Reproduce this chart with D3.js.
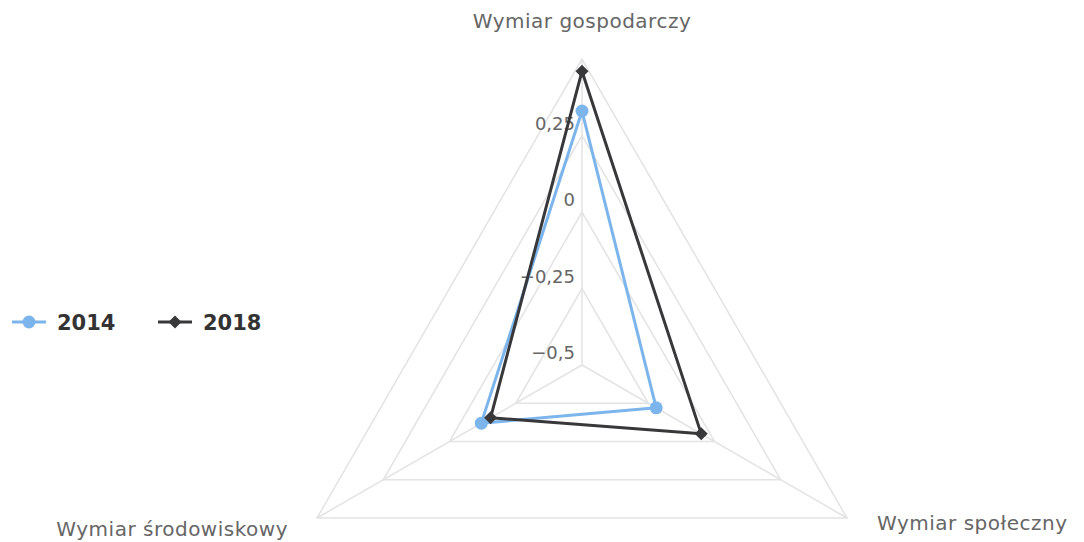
<!DOCTYPE html>
<meta charset="utf-8">
<style>
  body { margin: 0; background: #fff; }
  text { font-family: "DejaVu Sans", sans-serif; }
</style>
<body>
<script src="https://cdn.jsdelivr.net/npm/d3@7"></script>
<script>

// data
var categories = ["Wymiar gospodarczy", "Wymiar społeczny", "Wymiar środowiskowy"];
var series2014 = [0.33, -0.22, -0.12];
var series2018 = [0.46, -0.05, -0.155];
var seriesNames = ["2014", "2018"];
var tickValues = [-0.25, 0, 0.25, 0.5];
var tickLabels = [-0.5, -0.25, 0, 0.25];

var width = 1084,
    height = 542,
    cx = 582,
    cy = 365,
    radius = 306;

var colors = ["#7cb5ec", "#38383b"];

var svg = d3.select("body")
  .append("svg")
  .attr("width", width)
  .attr("height", height);

var r = d3.scaleLinear()
  .domain([-0.5, 0.5])
  .range([0, radius]);

var angle = d3.scaleLinear()
  .domain([0, categories.length])
  .range([0, 2 * Math.PI]);

function point(i, v) {
  var a = angle(i);
  return [cx + r(v) * Math.sin(a), cy - r(v) * Math.cos(a)];
}

var g = svg.append("g");

// grid triangles
g.selectAll(".grid")
  .data(tickValues)
  .enter().append("polygon")
  .attr("points", function(v) {
    return categories.map(function(c, i) { return point(i, v).join(","); }).join(" ");
  })
  .style("fill", "none")
  .style("stroke", "#e3e3e3")
  .style("stroke-width", 1.5);

// spokes
g.selectAll(".spoke")
  .data(categories)
  .enter().append("line")
  .attr("x1", cx)
  .attr("y1", cy)
  .attr("x2", function(c, i) { return point(i, 0.5)[0]; })
  .attr("y2", function(c, i) { return point(i, 0.5)[1]; })
  .style("stroke", "#e3e3e3")
  .style("stroke-width", 1.5);

// y labels
var fmt = function(v) { return d3.format("")(v).replace("-", "\u2212").replace(".", ","); };
g.selectAll(".ylab")
  .data(tickLabels)
  .enter().append("text")
  .attr("x", cx - 7)
  .attr("y", function(v) { return cy - r(v) - 6; })
  .attr("text-anchor", "end")
  .style("font-size", "18px")
  .style("fill", "#666")
  .text(fmt);

// category labels
var catPos = [
  {x: 582, y: 28, anchor: "middle"},
  {x: 877, y: 530, anchor: "start"},
  {x: 288, y: 536, anchor: "end"}
];
g.selectAll(".cat")
  .data(categories)
  .enter().append("text")
  .attr("x", function(c, i) { return catPos[i].x; })
  .attr("y", function(c, i) { return catPos[i].y; })
  .attr("text-anchor", function(c, i) { return catPos[i].anchor; })
  .style("font-size", "20px")
  .style("letter-spacing", "0.5px")
  .style("fill", "#666")
  .text(function(c) { return c; });

// series
var line = d3.line().curve(d3.curveLinearClosed);
var allSeries = [series2014, series2018];
var circle = d3.symbol().type(d3.symbolCircle).size(Math.PI * 6.5 * 6.5);
var diamond = function() { return "M0,-6.5L6.5,0L0,6.5L-6.5,0Z"; };
var symbols = [circle, diamond];

allSeries.forEach(function(s, k) {
  var pts = s.map(function(v, i) { return point(i, v); });
  g.append("path")
    .attr("d", line(pts))
    .style("fill", "none")
    .style("stroke", colors[k])
    .style("stroke-width", 3)
    .style("stroke-linejoin", "round");
  g.selectAll(".m" + k)
    .data(pts)
    .enter().append("path")
    .attr("transform", function(p) { return "translate(" + p[0] + "," + p[1] + ")"; })
    .attr("d", symbols[k])
    .style("fill", colors[k]);
});

// legend
var legendX = [12, 158];
var legend = svg.selectAll(".legend")
  .data(seriesNames)
  .enter().append("g")
  .attr("transform", function(d, i) { return "translate(" + legendX[i] + ",322)"; });

legend.append("line")
  .attr("x1", 0).attr("x2", 34)
  .style("stroke", function(d, i) { return colors[i]; })
  .style("stroke-width", 3);
legend.append("path")
  .attr("transform", "translate(17,0)")
  .attr("d", function(d, i) { return symbols[i](); })
  .style("fill", function(d, i) { return colors[i]; });
legend.append("text")
  .attr("x", 45)
  .attr("y", 8)
  .style("font-size", "21px")
  .style("font-weight", "bold")
  .style("fill", "#333")
  .text(function(d) { return d; });

</script>
</body>
